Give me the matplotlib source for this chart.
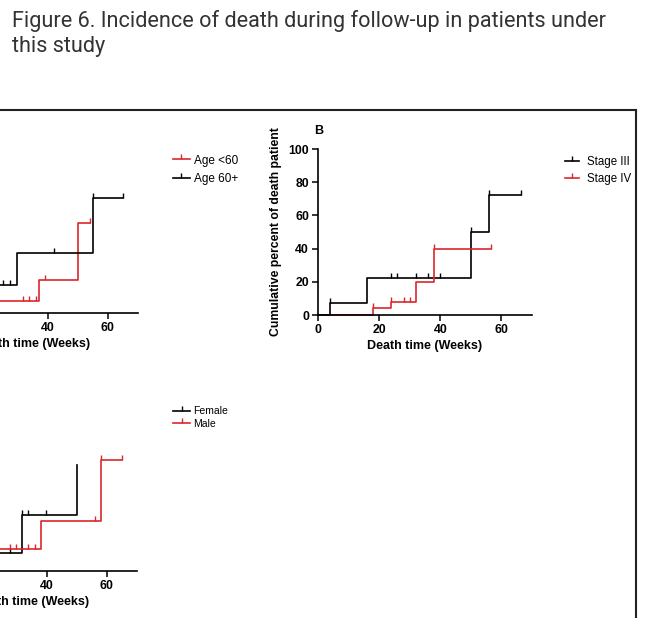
import numpy as np
import matplotlib
matplotlib.use('Agg')
import matplotlib.pyplot as plt
from matplotlib.lines import Line2D

plt.rcParams['font.family'] = ['Liberation Sans', 'DejaVu Sans']

TITLE_1 = 'Figure 6. Incidence of death during follow-up in patients under'
TITLE_2 = 'this study'
XLABEL = 'Death time (Weeks)'
YLABEL = 'Cumulative percent of death patient'
RED = '#d9282c'

# panel A - age (steps: time, cumulative %)
age_lt60_t = [0, 12, 37, 50]
age_lt60_v = [0, 7, 20, 54]
age_lt60_end = 54
age_lt60_cens = [32, 34, 36, 39, 54]
age_60_t = [0, 8, 30, 55]
age_60_v = [0, 17, 36, 69]
age_60_end = 65
age_60_cens = [25.3, 27.7, 42, 55, 65]

# panel B - stage
stage3_t = [0, 4, 16, 50, 56]
stage3_v = [0, 7, 22, 50, 72]
stage3_end = 66.5
stage3_cens = [4, 24, 26, 32, 36, 40, 50, 56, 66.5]
stage4_t = [4, 18, 24, 32, 38]
stage4_v = [0, 4, 8, 20, 40]
stage4_end = 56.5
stage4_cens = [18, 24, 28, 30, 38, 56.5]

# panel C - sex
female_t = [0, 10, 32, 50]
female_v = [0, 11, 34, 64]
female_end = 50
female_cens = [28, 32, 33.8, 39.7]
male_t = [0, 12, 38, 58]
male_v = [0, 13, 30, 67]
male_end = 65
male_cens = [28, 30, 34, 36, 56, 58, 65]


def drawCurve(ax, t, v, end, cens, color):
    x = list(t) + [end]
    y = list(v) + [v[-1]]
    ax.step(x, y, where='post', color=color, lw=1.2, clip_on=False)
    idx = np.searchsorted(t, cens, side='right') - 1
    cv = np.array(v)[idx]
    ax.plot(cens, cv, ls='none', marker=2, ms=3.5, mew=1.0, color=color, clip_on=False)


def setAxes(ax, label):
    ax.set_xlim(0, 70)
    ax.set_ylim(0, 100)
    ax.set_xticks([0, 20, 40, 60])
    ax.set_yticks([0, 20, 40, 60, 80, 100])
    for s in ['top', 'right']:
        ax.spines[s].set_visible(False)
    for s in ['left', 'bottom']:
        ax.spines[s].set_linewidth(1.2)
    ax.tick_params(length=4, width=1.1, labelsize=8.8, pad=2.5)
    for lab in ax.get_xticklabels() + ax.get_yticklabels():
        lab.set_fontweight('bold')
    ax.set_xlabel(XLABEL, fontsize=9, fontweight='bold', labelpad=3)
    ax.set_ylabel(YLABEL, fontsize=8.8, fontweight='bold')
    ax.yaxis.set_label_coords(-0.168, 0.5)
    ax.text(-0.02, 1.11, label, transform=ax.transAxes, fontsize=9,
            fontweight='bold', ha='left', va='center')


W, H = 650, 618
fig = plt.figure(figsize=(6.5, 6.18), dpi=100)

def box(left, bottom, right, top):
    return [left / W, 1 - bottom / H, (right - left) / W, (bottom - top) / H]

axA = fig.add_axes(box(-73, 313, 138, 147))
axB = fig.add_axes(box(318, 315, 532, 149))
axC = fig.add_axes(box(-74, 571, 137, 405))

drawCurve(axA, age_lt60_t, age_lt60_v, age_lt60_end, age_lt60_cens, RED)
drawCurve(axA, age_60_t, age_60_v, age_60_end, age_60_cens, 'black')
drawCurve(axB, stage3_t, stage3_v, stage3_end, stage3_cens, 'black')
drawCurve(axB, stage4_t, stage4_v, stage4_end, stage4_cens, RED)
drawCurve(axC, female_t, female_v, female_end, female_cens, 'black')
drawCurve(axC, male_t, male_v, male_end, male_cens, RED)

setAxes(axA, 'A')
setAxes(axB, 'B')
setAxes(axC, 'C')

def legendHandle(color):
    return Line2D([], [], color=color, lw=1.2, marker=2, ms=3.5, mew=1.0)

fig.legend([legendHandle(RED), legendHandle('black')], ['Age <60', 'Age 60+'],
           loc='upper left', bbox_to_anchor=(162 / W, 1 - 144 / H), frameon=False,
           fontsize=8.5, handlelength=1.5, handletextpad=0.35, labelspacing=0.55)
fig.legend([legendHandle('black'), legendHandle(RED)], ['Stage III', 'Stage IV'],
           loc='upper left', bbox_to_anchor=(555 / W, 1 - 146 / H), frameon=False,
           fontsize=8.3, handlelength=1.2, handletextpad=0.7, labelspacing=0.4)
fig.legend([legendHandle('black'), legendHandle(RED)], ['Female', 'Male'],
           loc='upper left', bbox_to_anchor=(164 / W, 1 - 397 / H), frameon=False,
           fontsize=7.5, handlelength=1.6, handletextpad=0.25, labelspacing=0.25)

# surrounding frame of the figure panel
fig.add_artist(Line2D([0, 636 / W], [1 - 110 / H, 1 - 110 / H], color='#222222', lw=1.5))
fig.add_artist(Line2D([636 / W, 636 / W], [0, 1 - 110 / H], color='#222222', lw=1.5))

tfont = ['Roboto', 'DejaVu Sans']
t1 = fig.text(12 / W, 1 - 27 / H, TITLE_1, family=tfont, fontsize=16, color='#333333',
              ha='left', va='baseline')
t2 = fig.text(12 / W, 1 - 52 / H, TITLE_2, family=tfont, fontsize=16, color='#333333',
              ha='left', va='baseline')
# fit the title line to the width it takes in the source
renderer = fig.canvas.get_renderer()
w = t1.get_window_extent(renderer).width
fs = 16 * 595 / w
t1.set_fontsize(fs)
t2.set_fontsize(fs)

fig.savefig('out.png', dpi=100)
